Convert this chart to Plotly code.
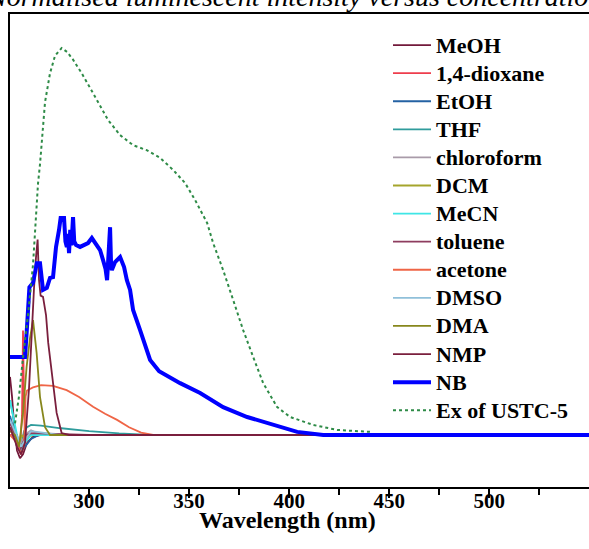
import plotly.graph_objects as go

# ---------------- data (wavelength nm, normalised intensity) ----------------
meoh_x = [260.5, 261.5, 262.5, 264, 265.5, 267, 269, 272, 276, 420]
meoh_y = [0.15, 0.10, 0.03, -0.04, -0.06, -0.05, -0.02, -0.005, 0.0, 0.0]

dioxane_x = [260.5, 264, 265.5, 266.5, 267, 267.6, 268.5, 270, 420]
dioxane_y = [0.0, 0.0, -0.03, 0.05, 0.27, 0.05, -0.02, 0.0, 0.0]

etoh_x = [260.5, 262, 264, 266, 268, 271, 275, 420]
etoh_y = [0.05, 0.02, -0.03, -0.045, -0.03, -0.01, 0.0, 0.0]

thf_x = [260.5, 262, 264, 266, 267.5, 269, 271, 276, 285, 300, 315, 330, 420]
thf_y = [0.09, 0.05, -0.02, -0.03, 0.01, 0.02, 0.026, 0.024, 0.018, 0.01, 0.004, 0.0, 0.0]

chloroform_x = [260.5, 263, 266, 269, 271, 274, 280, 420]
chloroform_y = [0.0, -0.01, -0.02, 0.005, 0.012, 0.005, 0.0, 0.0]

dcm_x = [260.5, 263, 265, 266.5, 268, 272, 420]
dcm_y = [0.02, 0.0, -0.02, 0.0, -0.01, 0.0, 0.0]

mecn_x = [260.5, 262, 264, 266, 268, 271, 420]
mecn_y = [0.09, 0.05, 0.0, -0.04, -0.02, 0.0, 0.0]

toluene_x = [260.5, 263, 265.5, 267, 268.5, 271, 280, 300, 420]
toluene_y = [0.03, 0.0, -0.04, -0.02, 0.0, 0.005, 0.003, 0.0, 0.0]

acetone_x = [260.5, 264, 266, 267.5, 268.3, 269, 272, 276, 282, 288.8, 295, 302, 308, 314, 320, 326, 332, 420]
acetone_y = [0.0, -0.02, -0.05, -0.03, 0.10, 0.115, 0.123, 0.129, 0.127, 0.116, 0.098, 0.073, 0.055, 0.039, 0.02, 0.006, 0.0, 0.0]

dmso_x = [260.5, 263, 266, 268.5, 271, 274, 285, 420]
dmso_y = [0.04, 0.01, -0.03, -0.01, 0.01, 0.008, 0.0, 0.0]

dma_x = [260.5, 263, 265, 267, 268.8, 270.5, 272, 273.8, 275.5, 278, 280.5, 420]
dma_y = [0.01, 0.0, -0.03, 0.057, 0.176, 0.25, 0.297, 0.212, 0.098, 0.02, 0.0, 0.0]

nmp_x = [260.5, 262, 264, 266, 268, 270, 271.5, 272.5, 273.5, 274.3, 275, 275.8, 277, 278.5, 279.6, 282, 283.8, 286.3, 290, 420]
nmp_y = [0.02, 0.0, -0.03, -0.05, -0.02, 0.12, 0.30, 0.38, 0.46, 0.505, 0.40, 0.36, 0.357, 0.31, 0.238, 0.142, 0.057, 0.005, 0.0, 0.0]

nb_x = [260.5, 268, 268.9, 270.2, 272, 273.9, 275.5, 276.4, 277, 278.9, 280.5, 282, 283.5, 285, 285.8,
        287.5, 288.2, 288.9, 289.4, 290, 290.6, 291.2, 292, 292.6, 293.5, 295.5, 299.5, 301.4, 303.9,
        305.5, 307, 308.2, 309, 309.8, 310.5, 311, 311.4, 313, 315.5, 317.5, 318.9, 320.5, 322, 325.5,
        330.5, 335, 345.5, 355.5, 367, 379, 392, 404, 417, 550]
nb_y = [0.2016, 0.2016, 0.271, 0.382, 0.393, 0.444, 0.444, 0.40, 0.375, 0.38, 0.406, 0.408, 0.486, 0.53, 0.561,
        0.561, 0.50, 0.486, 0.52, 0.47, 0.53, 0.49, 0.563, 0.50, 0.491, 0.486, 0.496, 0.509, 0.491,
        0.478, 0.452, 0.43, 0.40, 0.47, 0.537, 0.44, 0.426, 0.447, 0.46, 0.434, 0.40, 0.375, 0.323, 0.271,
        0.194, 0.165, 0.134, 0.1085, 0.072, 0.0465, 0.026, 0.008, 0.0, 0.0]

ex_x = [263, 265, 267, 269.5, 272, 274.5, 275.5, 276.3, 278, 280.5, 283, 286.3, 289, 292, 296.3, 300.5,
        303.8, 309.5, 315.5, 322, 328.8, 335.5, 342, 348, 353, 359, 362, 367, 372, 377, 382, 387, 394,
        400.5, 412, 424, 440.5]
ex_y = [0.03, 0.10, 0.20, 0.31, 0.44, 0.65, 0.70, 0.76, 0.86, 0.935, 0.98, 1.0, 0.99, 0.97, 0.935, 0.897,
        0.866, 0.814, 0.775, 0.749, 0.736, 0.716, 0.685, 0.651, 0.607, 0.548, 0.496, 0.426, 0.349, 0.271,
        0.2016, 0.134, 0.072, 0.0465, 0.026, 0.013, 0.008]

names = ["MeOH", "1,4-dioxane", "EtOH", "THF", "chloroform", "DCM", "MeCN", "toluene",
         "acetone", "DMSO", "DMA", "NMP", "NB", "Ex of USTC-5"]
colors = ["#72193a", "#ee3d4c", "#2462a3", "#2f9c9c", "#a99ba9", "#a5a52c", "#3fe6e6", "#8e3d5f",
          "#ef6546", "#90c0da", "#87871c", "#7a1f3d", "#0000ff", "#2e8b47"]
xs = [meoh_x, dioxane_x, etoh_x, thf_x, chloroform_x, dcm_x, mecn_x, toluene_x,
      acetone_x, dmso_x, dma_x, nmp_x, nb_x, ex_x]
ys = [meoh_y, dioxane_y, etoh_y, thf_y, chloroform_y, dcm_y, mecn_y, toluene_y,
      acetone_y, dmso_y, dma_y, nmp_y, nb_y, ex_y]

x_ticks = [300, 350, 400, 450, 500]

fig = go.Figure()
for n, c, x, y in zip(names, colors, xs, ys):
    if n == "NB":
        line = dict(color=c, width=4)
    elif n.startswith("Ex"):
        line = dict(color=c, width=2, dash="dot")
    else:
        line = dict(color=c, width=1.8)
    fig.add_trace(go.Scatter(x=x, y=y, mode="lines", line=line,
                             name='<span style="font-size:22px">' + n + '</span>'))

serif = "Liberation Serif"
L, T, B = 10, 14, 62
W, H = 589, 549
pw, ph = W - L, H - T - B

def px2paper_x(px):
    return (px - L) / pw

def px2paper_y(py):
    return (H - B - py) / ph

fig.update_layout(
    width=W, height=H,
    margin=dict(l=L, r=0, t=T, b=B),
    paper_bgcolor="white", plot_bgcolor="white",
    font=dict(family=serif, color="black"),
    showlegend=True,
    legend=dict(
        x=px2paper_x(388), y=px2paper_y(26), xanchor="left", yanchor="top",
        bgcolor="rgba(0,0,0,0)", borderwidth=0,
        font=dict(family=serif, size=19.3, weight="bold", color="black"),
        itemwidth=38, tracegroupgap=0,
    ),
    xaxis=dict(
        range=[260.5, 549.8], showgrid=False, zeroline=False,
        showline=True, linewidth=2, linecolor="black", mirror=True,
        ticks="outside", ticklen=9, tickwidth=2, tickcolor="black",
        tickvals=x_ticks, ticklabelstandoff=-15,
        tickfont=dict(family=serif, size=21, weight="bold", color="black"),
        minor=dict(ticks="outside", ticklen=6, tickwidth=2, tickcolor="black", tick0=275, dtick=50),
    ),
    yaxis=dict(
        range=[-0.1344, 1.0879], showgrid=False, zeroline=False,
        showline=True, linewidth=2, linecolor="black",
        showticklabels=False, ticks="",
    ),
)

fig.add_annotation(
    text="Wavelength (nm)", xref="paper", yref="paper",
    x=px2paper_x(287), y=px2paper_y(520), xanchor="center", yanchor="middle",
    showarrow=False, font=dict(family=serif, size=24, weight="bold", color="black"),
)

fig.add_annotation(
    text="Normalised luminescent intensity versus concentration", xref="paper", yref="paper",
    x=px2paper_x(-15), y=px2paper_y(-4), xanchor="left", yanchor="middle",
    showarrow=False, font=dict(family=serif, size=28, style="italic", color="black"),
)

fig.write_html("out.html")
